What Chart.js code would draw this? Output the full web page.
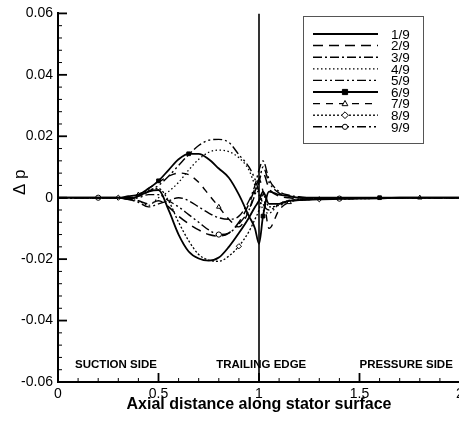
<!DOCTYPE html>
<html>
<head>
<meta charset="utf-8">
<script src="https://cdn.jsdelivr.net/npm/chart.js@4/dist/chart.umd.min.js"></script>
<style>
  html, body { margin: 0; padding: 0; background: #fff; overflow: hidden; }
  #wrap { position: relative; width: 470px; height: 421px; }
</style>
</head>
<body>
<div id="wrap"><canvas id="chart"></canvas></div>
<script>
// Axial stations along the stator surface (0-1 suction side, 1-2 pressure side)
const xs = [0, 0.1, 0.2, 0.3, 0.35, 0.4, 0.45, 0.5, 0.55, 0.6, 0.65, 0.7, 0.75, 0.8, 0.85, 0.9,
            0.95, 0.98, 1.0, 1.02, 1.05, 1.1, 1.15, 1.2, 1.3, 1.4, 1.5, 1.6, 1.7, 1.8, 1.9, 2.0];

// Δp at each time level of the period
const seriesNames = ['1/9', '2/9', '3/9', '4/9', '5/9', '6/9', '7/9', '8/9', '9/9'];
const dp1 = [0, 0, 0, 0, -0.0005, 0.0005, 0.002, 0.0025, -0.004, -0.012, -0.0175, -0.0198, -0.0205, -0.0195, -0.016, -0.0115,
             -0.0065, -0.003, -0.001, 0.002, -0.002, -0.002, -0.001, -0.0008, -0.0005, -0.0004, -0.0003, -0.0002, 0, 0, 0, 0];
const dp2 = [0, 0, 0, 0, -0.0005, -0.001, -0.002, -0.001, -0.003, -0.006, -0.0085, -0.0105, -0.012, -0.0125, -0.0115, -0.008,
             -0.002, 0.003, 0.006, 0.008, 0.003, 0.0005, 0, -0.0005, -0.0005, -0.0003, -0.0002, 0, 0, 0, 0, 0];
const dp3 = [0, 0, 0, 0, -0.0005, -0.0015, -0.003, -0.002, -0.001, 0, -0.001, -0.003, -0.005, -0.0065, -0.007, -0.006,
             -0.001, 0.004, 0.009, 0.012, 0.006, 0.002, 0.0008, 0.0003, -0.0003, -0.0003, -0.0002, 0, 0, 0, 0, 0];
const dp4 = [0, 0, 0, 0, -0.0005, -0.001, -0.0025, 0, 0.002, 0.005, 0.009, 0.0125, 0.0148, 0.0155, 0.015, 0.013,
             0.009, 0.004, 0.001, -0.004, -0.005, -0.002, -0.001, -0.0005, -0.0003, -0.0002, 0, 0, 0, 0, 0, 0];
const dp5 = [0, 0, 0, 0, 0, 0.0005, 0.002, 0.004, 0.007, 0.0105, 0.014, 0.017, 0.0187, 0.019, 0.018, 0.014,
             0.01, 0.006, 0.002, -0.002, -0.004, -0.002, -0.001, -0.0005, -0.0003, 0, 0, 0, 0, 0, 0, 0];
const dp6 = [0, 0, 0, 0, 0.0005, 0.001, 0.003, 0.0055, 0.009, 0.0125, 0.0143, 0.0143, 0.0125, 0.0095, 0.0065, 0.001,
             -0.006, -0.01, -0.015, -0.006, 0.002, 0.001, 0.0005, 0, 0, 0, 0, 0, 0, 0, 0, 0];
const dp7 = [0, 0, 0, 0, 0, 0.001, 0.003, 0.005, 0.007, 0.008, 0.0075, 0.005, 0.001, -0.003, -0.007, -0.0095,
             -0.004, 0.002, 0.006, 0.002, -0.01, -0.004, -0.0015, -0.0008, -0.0004, 0, 0, 0, 0, 0, 0, 0];
const dp8 = [0, 0, 0, 0, -0.0005, 0.0005, 0.0025, 0.003, -0.001, -0.008, -0.014, -0.0185, -0.0203, -0.0207, -0.019, -0.0158,
             -0.011, -0.007, -0.004, 0.001, -0.003, -0.0025, -0.0012, -0.0008, -0.0005, -0.0004, -0.0003, -0.0002, 0, 0, 0, 0];
const dp9 = [0, 0, 0, 0, -0.0005, 0, 0.001, 0.001, -0.001, -0.003, -0.0055, -0.008, -0.0105, -0.012, -0.0115, -0.0085,
             -0.004, 0.001, 0.005, 0.01, 0.005, 0.0015, 0.0005, 0, -0.0003, -0.0003, -0.0002, 0, 0, 0, 0, 0];
const allDp = [dp1, dp2, dp3, dp4, dp5, dp6, dp7, dp8, dp9];

const xTicks = [0, 0.5, 1, 1.5, 2];
const xTickLabels = ['0', '0.5', '1', '1.5', '2'];
const yTicks = [-0.06, -0.04, -0.02, 0, 0.02, 0.04, 0.06];
const yTickLabels = ['-0.06', '-0.04', '-0.02', '0', '0.02', '0.04', '0.06'];
const regionLabels = ['SUCTION SIDE', 'TRAILING EDGE', 'PRESSURE SIDE'];
const trailingEdgeX = 1;

// line pattern and symbol for every time level
const lineStyles = [
  { dash: [], width: 1.8 },
  { dash: [10, 6], width: 1.5 },
  { dash: [9, 3, 2, 3], width: 1.4 },
  { dash: [1.5, 2.5], width: 1.3 },
  { dash: [9, 3, 2, 3, 2, 3], width: 1.4 },
  { dash: [], width: 1.8, marker: 'rect', filled: true, at: [7, 10, 19, 27] },
  { dash: [7, 6], width: 1.4, marker: 'triangle', at: [5, 13, 22, 29] },
  { dash: [2, 2], width: 1.3, marker: 'rectRot', at: [3, 15, 24] },
  { dash: [9, 3, 2, 3, 2, 3], width: 1.4, marker: 'circle', at: [2, 13, 25] }
];

const datasets = allDp.map((dp, i) => {
  const st = lineStyles[i];
  return {
    label: seriesNames[i],
    data: xs.map((x, k) => ({ x: x, y: dp[k] })),
    borderColor: '#000',
    borderWidth: st.width,
    borderDash: st.dash,
    backgroundColor: st.filled ? '#000' : '#fff',
    pointStyle: st.marker || 'circle',
    pointBorderColor: '#000',
    pointBorderWidth: 1,
    pointRadius: ctx => (st.at && st.at.includes(ctx.dataIndex)) ? 2.6 : 0,
    cubicInterpolationMode: 'monotone',
    fill: false
  };
});

// trailing edge marker line
datasets.push({
  label: 'TE',
  data: [{ x: trailingEdgeX, y: yTicks[0] }, { x: trailingEdgeX, y: yTicks[yTicks.length - 1] }],
  borderColor: '#000',
  borderWidth: 1.6,
  pointRadius: 0,
  fill: false
});

function drawMarker(ctx, style, x, y, r, filled) {
  ctx.beginPath();
  if (style === 'rect') {
    ctx.rect(x - r, y - r, 2 * r, 2 * r);
  } else if (style === 'triangle') {
    ctx.moveTo(x, y - r * 1.2);
    ctx.lineTo(x + r * 1.1, y + r * 0.8);
    ctx.lineTo(x - r * 1.1, y + r * 0.8);
    ctx.closePath();
  } else if (style === 'rectRot') {
    ctx.moveTo(x, y - r * 1.3);
    ctx.lineTo(x + r * 1.3, y);
    ctx.lineTo(x, y + r * 1.3);
    ctx.lineTo(x - r * 1.3, y);
    ctx.closePath();
  } else {
    ctx.arc(x, y, r, 0, Math.PI * 2);
  }
  ctx.fillStyle = filled ? '#000' : '#fff';
  ctx.fill();
  ctx.stroke();
}

// inward major/minor ticks, region labels, Δp title and the boxed key
const decorations = {
  id: 'decorations',
  afterDatasetsDraw(chart) {
    const { ctx, chartArea: a, scales: { x, y } } = chart;
    ctx.save();
    ctx.strokeStyle = '#000';
    ctx.setLineDash([]);

    for (let v = 0; v <= 2.0001; v += 0.1) {
      const px = x.getPixelForValue(v);
      const major = xTicks.some(t => Math.abs(t - v) < 1e-6);
      ctx.lineWidth = major ? 1.8 : 1;
      ctx.beginPath();
      ctx.moveTo(px, a.bottom);
      ctx.lineTo(px, a.bottom - (major ? 9 : 4));
      ctx.stroke();
    }
    for (let v = -0.06; v <= 0.06001; v += 0.004) {
      const py = y.getPixelForValue(v);
      const major = yTicks.some(t => Math.abs(t - v) < 1e-6);
      ctx.lineWidth = major ? 1.8 : 1;
      ctx.beginPath();
      ctx.moveTo(a.left, py);
      ctx.lineTo(a.left + (major ? 9 : 4), py);
      ctx.stroke();
    }

    ctx.fillStyle = '#000';
    ctx.font = 'bold 11.5px "Liberation Sans", Arial, sans-serif';
    ctx.textBaseline = 'alphabetic';
    ctx.textAlign = 'left';
    const regionAt = [0.085, 0.787, 1.5];
    regionLabels.forEach((t, i) => {
      ctx.fillText(t, x.getPixelForValue(regionAt[i]), y.getPixelForValue(-0.0555));
    });

    ctx.font = '17px "Liberation Sans", Arial, sans-serif';
    ctx.textAlign = 'center';
    ctx.textBaseline = 'middle';
    ctx.translate(20, y.getPixelForValue(0.005));
    ctx.rotate(-Math.PI / 2);
    ctx.fillText('\u0394 p', 0, 0);
    ctx.restore();

    // key
    ctx.save();
    const bx = 303, by = 16, bw = 120, bh = 127;
    ctx.strokeStyle = '#555';
    ctx.lineWidth = 1;
    ctx.strokeRect(bx + 0.5, by + 0.5, bw, bh);
    ctx.font = '13.5px "Liberation Sans", Arial, sans-serif';
    ctx.textAlign = 'left';
    ctx.textBaseline = 'middle';
    seriesNames.forEach((name, i) => {
      const st = lineStyles[i];
      const ry = 34 + i * 11.6;
      ctx.strokeStyle = '#000';
      ctx.lineWidth = st.width;
      ctx.setLineDash(st.dash);
      ctx.beginPath();
      ctx.moveTo(313, ry);
      ctx.lineTo(378, ry);
      ctx.stroke();
      ctx.setLineDash([]);
      if (st.marker) {
        ctx.lineWidth = 1;
        drawMarker(ctx, st.marker, 345, ry, 2.6, st.filled);
      }
      ctx.fillStyle = '#000';
      ctx.fillText(name, 391, ry + 1);
    });
    ctx.restore();
  }
};

new Chart(document.getElementById('chart'), {
  type: 'line',
  data: { datasets: datasets },
  options: {
    responsive: true,
    maintainAspectRatio: false,
    animation: false,
    layout: { padding: { top: 12, right: 10, bottom: 0, left: 0 } },
    plugins: { legend: { display: false }, tooltip: { enabled: false } },
    scales: {
      x: {
        type: 'linear',
        min: 0,
        max: 2,
        afterBuildTicks: s => { s.ticks = xTicks.map(v => ({ value: v })); },
        afterFit: s => { s.height = 39; },
        ticks: {
          color: '#000',
          padding: 4,
          maxRotation: 0,
          font: { size: 14, family: '"Liberation Sans", Arial, sans-serif' },
          callback: (v, i) => xTickLabels[i]
        },
        grid: { display: true, drawOnChartArea: false, drawTicks: false },
        border: { display: true, color: '#000', width: 2 },
        title: {
          display: true,
          text: 'Axial distance along stator surface',
          color: '#000',
          padding: { top: 0, bottom: 7 },
          font: { size: 16, weight: 'bold', family: '"Liberation Sans", Arial, sans-serif' }
        }
      },
      y: {
        type: 'linear',
        min: -0.06,
        max: 0.06,
        afterBuildTicks: s => { s.ticks = yTicks.map(v => ({ value: v })); },
        afterFit: s => { s.width = 58; },
        ticks: {
          color: '#000',
          padding: 5,
          font: { size: 14, family: '"Liberation Sans", Arial, sans-serif' },
          callback: (v, i) => yTickLabels[i]
        },
        grid: { display: true, drawOnChartArea: false, drawTicks: false },
        border: { display: true, color: '#000', width: 2 }
      }
    }
  },
  plugins: [decorations]
});
</script>
</body>
</html>
